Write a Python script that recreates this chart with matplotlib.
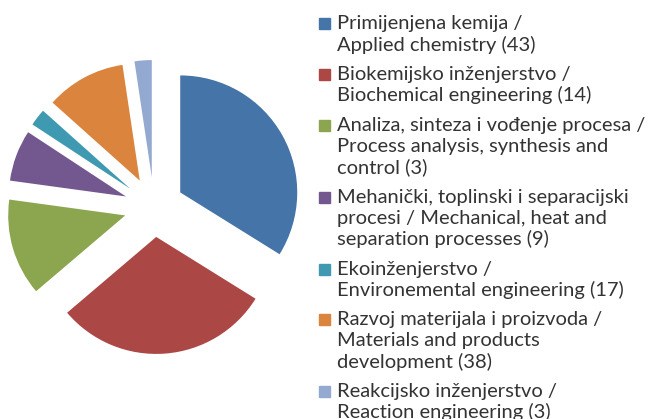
import matplotlib.pyplot as plt
from matplotlib.patches import Rectangle

# slice sizes as drawn (pie order, clockwise from 12 o'clock)
values = [43, 38, 17, 9, 3, 14, 3]
colors = ['#4474a8', '#ab4744', '#8ca64f', '#72588f', '#3f9ab1', '#da843d', '#93a9cf']
labels = [
    'Primijenjena kemija /\nApplied chemistry (43)',
    'Biokemijsko inženjerstvo /\nBiochemical engineering (14)',
    'Analiza, sinteza i vođenje procesa /\nProcess analysis, synthesis and\ncontrol (3)',
    'Mehanički, toplinski i separacijski\nprocesi / Mechanical, heat and\nseparation processes (9)',
    'Ekoinženjerstvo /\nEnvironemental engineering (17)',
    'Razvoj materijala i proizvoda /\nMaterials and products\ndevelopment (38)',
    'Reakcijsko inženjerstvo /\nReaction engineering (3)',
]

plt.rcParams['font.family'] = ['Lato', 'DejaVu Sans']

W, H = 653, 419
fig = plt.figure(figsize=(W / 100, H / 100), dpi=100)

# pie centred at (154, 207) px, radius 117 px
R = 117
half = 150
cx, cy = 154, H - 207
ax = fig.add_axes([(cx - half) / W, (cy - half) / H, 2 * half / W, 2 * half / H])
ax.pie(values, colors=colors, startangle=90, counterclock=False,
       explode=[30 / R] * len(values), radius=1,
       wedgeprops=dict(linewidth=0))
ax.set_xlim(-half / R, half / R)
ax.set_ylim(-half / R, half / R)
ax.set_aspect('auto')
ax.axis('off')

# legend drawn by hand, line by line (pixel layout from top)
line_h = 21.3
entry_gap = 29.3
y = 23.0
for lab, col in zip(labels, colors):
    fig.patches.append(Rectangle((319 / W, 1 - (y + 6.5) / H), 11 / W, 11 / H,
                                 transform=fig.transFigure, color=col))
    for i, line in enumerate(lab.split('\n')):
        if i:
            y += line_h
        fig.text(337 / W, 1 - (y + 6.5) / H, line, fontsize=14.5, color='#333333',
                 va='baseline', ha='left')
    y += entry_gap

fig.savefig('out.png', dpi=100)
